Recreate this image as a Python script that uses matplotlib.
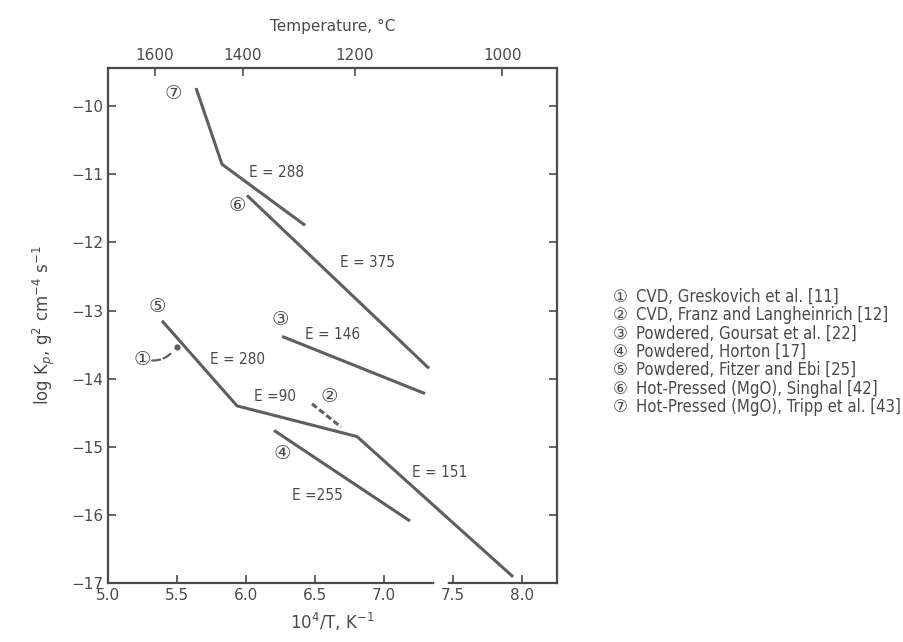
import matplotlib
matplotlib.use("Agg")
import matplotlib.pyplot as plt
import numpy as np

plt.rcParams['font.family'] = ['DejaVu Sans', 'Noto Sans CJK SC']

# ---- data (10^4/T, log Kp) ----
s7_x = [5.638, 5.826, 6.428]
s7_y = [-9.735, -10.853, -11.75]
s6_x = [6.007, 7.326]
s6_y = [-11.31, -13.85]
s3_x = [6.261, 7.297]
s3_y = [-13.38, -14.22]
s5_x = [5.391, 5.935, 6.804, 7.935]
s5_y = [-13.15, -14.40, -14.85, -16.91]
s2_x = [6.478, 6.688]
s2_y = [-14.37, -14.71]
s4_x = [6.203, 7.188]
s4_y = [-14.76, -16.09]
s1_x = [5.50]
s1_y = [-13.54]

series_labels = ["①", "②", "③", "④", "⑤", "⑥", "⑦"]
label_pos = {"⑦": (5.47, -9.81), "⑥": (5.935, -11.46), "③": (6.246, -13.13),
             "⑤": (5.36, -12.94), "①": (5.246, -13.72), "②": (6.60, -14.26),
             "④": (6.26, -15.10)}
energy_labels = ["E = 288", "E = 375", "E = 146", "E = 280", "E =90", "E = 151", "E =255"]
energy_pos = [(6.22, -10.97), (6.877, -12.29), (6.63, -13.35), (5.935, -13.72),
              (6.21, -14.26), (7.406, -15.38), (6.52, -15.71)]
legend_entries = ["CVD, Greskovich et al. [11]",
                  "CVD, Franz and Langheinrich [12]",
                  "Powdered, Goursat et al. [22]",
                  "Powdered, Horton [17]",
                  "Powdered, Fitzer and Ebi [25]",
                  "Hot-Pressed (MgO), Singhal [42]",
                  "Hot-Pressed (MgO), Tripp et al. [43]"]
x_ticks = [5.0, 5.5, 6.0, 6.5, 7.0, 7.5, 8.0]
y_ticks = [-10, -11, -12, -13, -14, -15, -16, -17]
t_ticks = [1600, 1400, 1200, 1000]

ink = '#4a4a4a'
line_c = '#5f5f5f'

fig = plt.figure(figsize=(9.04, 6.42), dpi=100)
ax = fig.add_axes([108/904, 1-583/642, (557-108)/904, (583-68)/642])
ax.set_xlim(5.0, 8.253)
ax.set_ylim(-17.0, -9.44)

lw = 2.2
for xs, ys in [(s7_x, s7_y), (s6_x, s6_y), (s3_x, s3_y), (s5_x, s5_y), (s4_x, s4_y)]:
    ax.plot(xs, ys, color=line_c, lw=lw, solid_capstyle='butt')
ax.plot(s2_x, s2_y, color=line_c, lw=lw, ls=(0, (2.0, 1.0)))
ax.plot(s1_x, s1_y, 'o', color=line_c, ms=3.5)
ax.annotate("", xy=(s1_x[0] - 0.02, s1_y[0] - 0.03), xytext=(5.30, -13.73),
            arrowprops=dict(arrowstyle='-', color=line_c, lw=1.6, ls='--',
                            connectionstyle='arc3,rad=0.3'))

for lab, (lx, ly) in label_pos.items():
    ax.text(lx, ly, lab, fontsize=14, color=ink, ha='center', va='center')
for lab, (lx, ly) in zip(energy_labels, energy_pos):
    ax.text(lx, ly, lab, fontsize=11, color=ink, ha='center', va='center',
            fontstretch='condensed')

ax.set_xticks(x_ticks)
ax.set_xticklabels([f"{v:.1f}" for v in x_ticks], fontsize=11, color=ink)
ax.set_yticks(y_ticks)
ax.set_yticklabels([f"\u2212{abs(v)}" for v in y_ticks], fontsize=11, color=ink)
ax.tick_params(direction='in', length=6, width=1.2, color=ink, top=False, right=True)
for sp in ax.spines.values():
    sp.set_color(ink)
    sp.set_linewidth(1.6)

# axis break on bottom spine
ax.plot([7.385, 7.44], [-17, -17], color='white', lw=4, clip_on=False, zorder=5)

sec = ax.secondary_xaxis('top', functions=(lambda x: 1e4 / np.maximum(x, 1e-6) - 273,
                                           lambda t: 1e4 / (np.asarray(t) + 273)))
sec.set_xticks(t_ticks)
sec.set_xticklabels([str(t) for t in t_ticks], fontsize=11, color=ink)
sec.tick_params(direction='in', length=6, width=1.2, color=ink)
sec.spines['top'].set_visible(False)
sec.set_xlabel("Temperature, °C", fontsize=11, color=ink, labelpad=12)

ax.set_xlabel("10$^4$/T, K$^{-1}$", fontsize=12, color=ink, labelpad=6)
ax.set_ylabel("log K$_p$, g$^2$ cm$^{-4}$ s$^{-1}$", fontsize=12, color=ink, labelpad=10)

y0 = 1 - 297/642
dy = 18.3/642
for i, (lab, txt) in enumerate(zip(series_labels, legend_entries)):
    fig.text(620/904, y0 - i*dy, lab, fontsize=12, color=ink, ha='center', va='center')
    fig.text(636/904, y0 - i*dy, txt, fontsize=12, color=ink, ha='left', va='center',
             fontstretch='condensed')

fig.savefig("out.png", dpi=100, facecolor='white')
